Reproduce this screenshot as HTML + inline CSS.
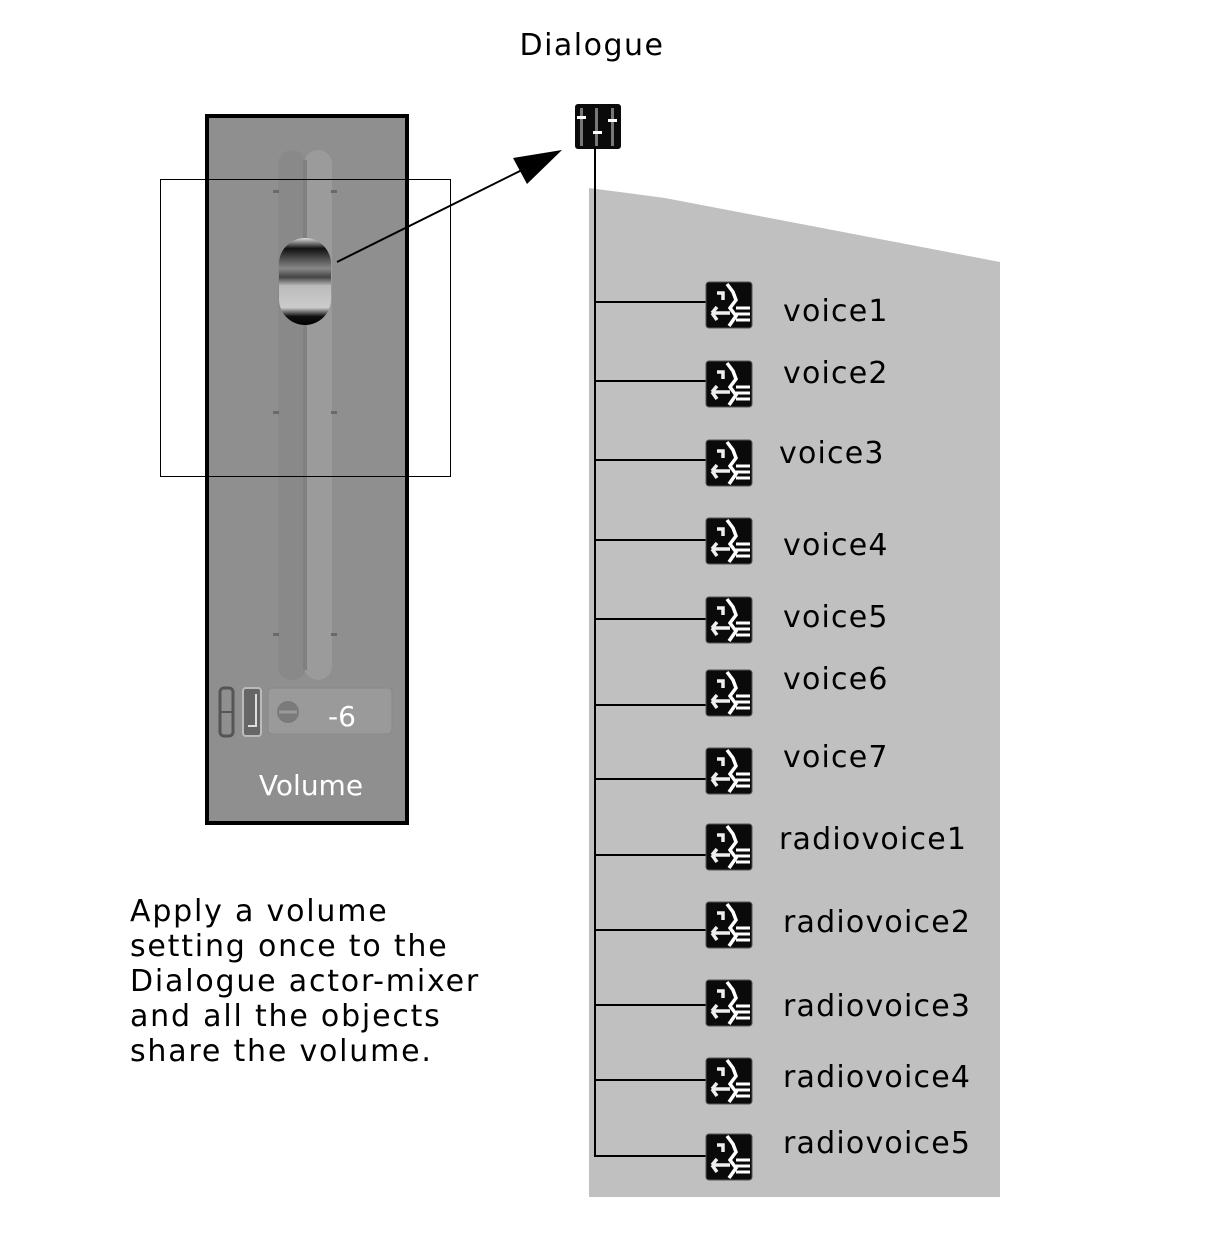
<!DOCTYPE html>
<html><head><meta charset="utf-8"><style>
html,body{margin:0;padding:0;background:#fff;width:1221px;height:1246px;overflow:hidden}
svg{display:block}
text{font-family:"DejaVu Sans","Liberation Sans",sans-serif;fill:#000}
</style></head><body>
<svg width="1221" height="1246" viewBox="0 0 1221 1246" xmlns="http://www.w3.org/2000/svg">
<defs>
<g id="vi">
<rect x="0" y="0" width="46" height="46" rx="3" fill="#0a0a0a" stroke="#555" stroke-width="1"/>
<path d="M21 2 L27 10 L30 18 L24 26 L30 34 L23 44" fill="none" stroke="#fff" stroke-width="3.5"/>
<path d="M11 11 L17 11 L17 18 M6 31 L24 31 M6 31 L11 25 M6 31 L11 38" fill="none" stroke="#eee" stroke-width="3.5"/>
<path d="M30 26 L44 26 M30 32 L44 32 M30 38 L44 38" stroke="#fff" stroke-width="3"/>
</g>
<linearGradient id="kn" x1="0" y1="0" x2="0" y2="1">
<stop offset="0" stop-color="#ddd"/><stop offset="0.12" stop-color="#111"/><stop offset="0.35" stop-color="#888"/><stop offset="0.45" stop-color="#444"/><stop offset="0.55" stop-color="#bbb"/><stop offset="0.8" stop-color="#ccc"/><stop offset="0.9" stop-color="#111"/><stop offset="1" stop-color="#000"/>
</linearGradient>
</defs>
<text x="592" y="55" font-size="30" letter-spacing="1.5" text-anchor="middle">Dialogue</text>
<rect x="207" y="116" width="200" height="707" fill="#8f8f8f" stroke="#000" stroke-width="4"/>
<rect x="278" y="150" width="28" height="530" rx="14" fill="#898989"/>
<rect x="304" y="150" width="28" height="530" rx="14" fill="#9b9b9b"/>
<rect x="303" y="160" width="4" height="510" fill="#808080"/>
<g fill="#6a6a6a"><rect x="273" y="190" width="6" height="3"/><rect x="331" y="190" width="6" height="3"/><rect x="273" y="411" width="6" height="3"/><rect x="331" y="411" width="6" height="3"/><rect x="273" y="633" width="6" height="3"/><rect x="331" y="633" width="6" height="3"/></g>
<rect x="279" y="238" width="52" height="87" rx="26" fill="url(#kn)"/>
<rect x="220" y="688" width="13" height="48" rx="4" fill="none" stroke="#555" stroke-width="3"/>
<line x1="221" y1="712" x2="232" y2="712" stroke="#555" stroke-width="2"/>
<rect x="243" y="688" width="18" height="48" rx="3" fill="#666" stroke="#bbb" stroke-width="2"/>
<path d="M256 694 L256 726 L248 726" fill="none" stroke="#ddd" stroke-width="2"/>
<rect x="268" y="688" width="124" height="46" rx="4" fill="#9a9a9a" stroke="#888"/>
<circle cx="288" cy="712" r="11" fill="#7a7a7a"/>
<path d="M279 712 L297 712" stroke="#999" stroke-width="3"/>
<text x="342" y="726" font-size="28" style="fill:#fff" text-anchor="middle">-6</text>
<text x="311" y="795" font-size="28" style="fill:#fff" text-anchor="middle">Volume</text>
<rect x="160.5" y="179.5" width="290" height="297" fill="none" stroke="#000" stroke-width="1"/>
<line x1="337" y1="262" x2="530" y2="166" stroke="#000" stroke-width="2"/>
<polygon points="562,150 513,158 527,184" fill="#000"/>
<polygon points="589,188 665,198 1000,262 1000,1197 589,1197" fill="#c0c0c0"/>
<rect x="575" y="104" width="46" height="45" rx="3" fill="#0a0a0a"/>
<g fill="#777"><rect x="580" y="108" width="3" height="38"/><rect x="595" y="108" width="3" height="38"/><rect x="611" y="108" width="3" height="38"/></g>
<g fill="#fff"><rect x="577" y="116" width="9" height="3"/><rect x="593" y="131" width="9" height="3"/><rect x="608" y="119" width="9" height="3"/></g>
<line x1="595" y1="148" x2="595" y2="1157" stroke="#000" stroke-width="2"/>
<g stroke="#000" stroke-width="2">
<line x1="595" y1="302" x2="708" y2="302"/><line x1="595" y1="381" x2="708" y2="381"/><line x1="595" y1="460" x2="708" y2="460"/><line x1="595" y1="540" x2="708" y2="540"/><line x1="595" y1="619" x2="708" y2="619"/><line x1="595" y1="705" x2="708" y2="705"/><line x1="595" y1="779" x2="708" y2="779"/><line x1="595" y1="855" x2="708" y2="855"/><line x1="595" y1="930" x2="708" y2="930"/><line x1="595" y1="1005" x2="708" y2="1005"/><line x1="595" y1="1080" x2="708" y2="1080"/><line x1="594" y1="1156" x2="708" y2="1156"/>
</g>
<use href="#vi" x="706" y="282"/><use href="#vi" x="706" y="361"/><use href="#vi" x="706" y="440"/><use href="#vi" x="706" y="518"/><use href="#vi" x="706" y="597"/><use href="#vi" x="706" y="670"/><use href="#vi" x="706" y="748"/><use href="#vi" x="706" y="824"/><use href="#vi" x="706" y="902"/><use href="#vi" x="706" y="980"/><use href="#vi" x="706" y="1058"/><use href="#vi" x="706" y="1134"/>
<g font-size="30" letter-spacing="1.2">
<text x="783" y="321">voice1</text><text x="783" y="383">voice2</text><text x="779" y="463">voice3</text><text x="783" y="555">voice4</text><text x="783" y="627">voice5</text><text x="783" y="689">voice6</text><text x="783" y="767">voice7</text><text x="779" y="849">radiovoice1</text><text x="783" y="932">radiovoice2</text><text x="783" y="1016">radiovoice3</text><text x="783" y="1087">radiovoice4</text><text x="783" y="1153">radiovoice5</text>
</g>
<g font-size="30" letter-spacing="1.8">
<text x="130" y="921">Apply a volume</text>
<text x="130" y="956">setting once to the</text>
<text x="130" y="991">Dialogue actor-mixer</text>
<text x="130" y="1026">and all the objects</text>
<text x="130" y="1061">share the volume.</text>
</g>
</svg>
</body></html>
